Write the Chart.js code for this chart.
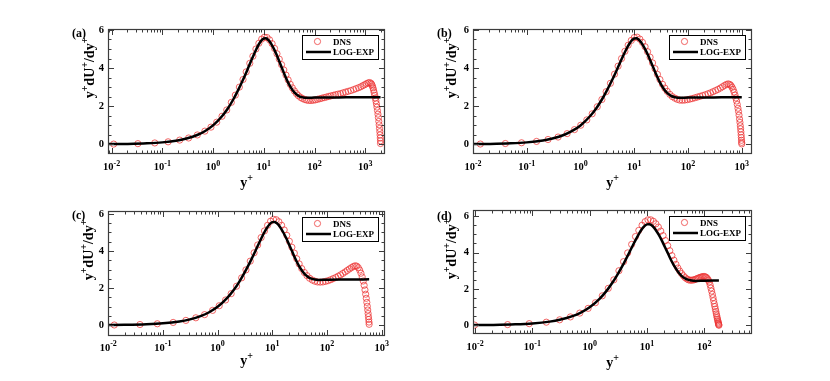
<!DOCTYPE html>
<html>
<head>
<meta charset="utf-8">
<script src="https://cdn.jsdelivr.net/npm/chart.js@4.4.1/dist/chart.umd.min.js"></script>
<style>
  html, body { margin: 0; padding: 0; background: #fff; }
  #wrap { position: relative; width: 830px; height: 381px; }
  #wrap canvas { position: absolute; left: 0; top: 0; }
</style>
</head>
<body>
<div id="wrap">
  <canvas id="chartA" width="830" height="381"></canvas>
  <canvas id="chartB" width="830" height="381"></canvas>
  <canvas id="chartC" width="830" height="381"></canvas>
  <canvas id="chartD" width="830" height="381"></canvas>
</div>
<script>
// y+ dU+/dy+ against y+ : DNS profiles and the LOG-EXP fit, four friction Reynolds numbers

const panelLetters = ['(a)', '(b)', '(c)', '(d)'];
const reTau = [2000, 1000, 590, 180];
const seriesNames = ['DNS', 'LOG-EXP'];
const xTickValues = [0.01, 0.1, 1, 10, 100, 1000];
const xTickExp = ['-2', '-1', '0', '1', '2', '3'];
const yTickValues = [0, 2, 4, 6];

// LOG-EXP curve (same law in every panel, cut at Re_tau)
const logExpYp = [0.008, 0.01, 0.02, 0.05, 0.1, 0.2, 0.3, 0.5, 0.7, 1, 1.5, 2, 2.5, 3, 4, 5, 6, 7, 8, 9, 10, 11, 12, 13, 14, 16, 18, 20, 23, 26, 30, 35, 40, 45, 50, 60, 70, 100, 180, 300, 590, 1000, 2000];
const logExpVal = [0.008, 0.01, 0.02, 0.05, 0.1, 0.2, 0.3, 0.5, 0.7, 0.99, 1.47, 1.92, 2.35, 2.75, 3.45, 4.05, 4.55, 4.95, 5.25, 5.45, 5.55, 5.56, 5.5, 5.4, 5.27, 4.98, 4.68, 4.38, 3.98, 3.62, 3.25, 2.93, 2.72, 2.6, 2.52, 2.46, 2.44, 2.45, 2.46, 2.46, 2.47, 2.47, 2.47];

// DNS, Re_tau = 2000
const dnsA_yp = [0.011, 0.033, 0.071, 0.13, 0.22, 0.33, 0.49, 0.69, 0.91, 1.18, 1.5, 1.86, 2.29, 2.75, 3.3, 3.9, 4.5, 5.3, 6.1, 7.0, 8.0, 9.1, 10.3, 11.6, 13.0, 14.6, 16.3, 18.2, 20.2, 22.4, 24.8, 27.4, 30.2, 33.2, 36.5, 40, 44, 48, 53, 58, 64, 70, 77, 85, 94, 104, 115, 127, 140, 155, 172, 190, 210, 235, 260, 290, 325, 365, 410, 460, 520, 590, 660, 740, 820, 900, 980, 1060, 1140, 1220, 1300, 1340, 1380, 1420, 1460, 1500, 1540, 1580, 1620, 1660, 1700, 1740, 1780, 1815, 1850, 1880, 1910, 1935, 1958, 1978, 1993, 2000];
const dnsA_val = [0.011, 0.033, 0.07, 0.13, 0.22, 0.33, 0.49, 0.69, 0.9, 1.16, 1.47, 1.8, 2.2, 2.58, 3.0, 3.4, 3.8, 4.25, 4.62, 5.0, 5.3, 5.52, 5.62, 5.6, 5.48, 5.28, 5.03, 4.75, 4.47, 4.18, 3.9, 3.63, 3.38, 3.15, 2.96, 2.8, 2.66, 2.55, 2.46, 2.4, 2.35, 2.32, 2.3, 2.3, 2.31, 2.33, 2.36, 2.39, 2.42, 2.45, 2.48, 2.51, 2.54, 2.57, 2.6, 2.63, 2.66, 2.7, 2.74, 2.78, 2.82, 2.87, 2.92, 2.97, 3.02, 3.08, 3.13, 3.18, 3.22, 3.24, 3.2, 3.14, 3.06, 2.96, 2.84, 2.71, 2.57, 2.43, 2.28, 2.12, 1.95, 1.77, 1.58, 1.4, 1.2, 1.02, 0.83, 0.66, 0.49, 0.33, 0.18, 0.04];

// DNS, Re_tau = 1000
const dnsB_yp = [0.0137, 0.04, 0.08, 0.152, 0.249, 0.383, 0.564, 0.773, 1.01, 1.31, 1.65, 2.05, 2.5, 3.0, 3.6, 4.3, 5.0, 5.8, 6.7, 7.7, 8.8, 10.0, 11.3, 12.7, 14.2, 15.9, 17.7, 19.7, 21.9, 24.3, 27, 30, 33.5, 37, 41, 46, 51, 57, 63, 70, 78, 87, 97, 108, 120, 134, 150, 168, 188, 210, 235, 262, 292, 325, 360, 400, 440, 480, 520, 560, 600, 630, 660, 690, 720, 750, 775, 800, 825, 850, 870, 890, 910, 925, 940, 952, 963, 973, 982, 990, 996, 1000];
const dnsB_val = [0.014, 0.04, 0.08, 0.15, 0.25, 0.38, 0.56, 0.77, 1.0, 1.28, 1.6, 1.97, 2.35, 2.76, 3.2, 3.68, 4.1, 4.5, 4.88, 5.2, 5.45, 5.6, 5.62, 5.52, 5.35, 5.12, 4.86, 4.57, 4.27, 3.97, 3.67, 3.4, 3.15, 2.95, 2.78, 2.62, 2.5, 2.42, 2.36, 2.32, 2.31, 2.32, 2.34, 2.37, 2.4, 2.44, 2.48, 2.52, 2.56, 2.6, 2.65, 2.7, 2.76, 2.82, 2.88, 2.95, 3.02, 3.09, 3.14, 3.17, 3.14, 3.08, 2.99, 2.88, 2.74, 2.58, 2.43, 2.27, 2.09, 1.89, 1.72, 1.53, 1.32, 1.15, 0.97, 0.81, 0.65, 0.49, 0.35, 0.21, 0.1, 0.02];

// DNS, Re_tau = 590
const dnsC_yp = [0.0129, 0.038, 0.079, 0.154, 0.263, 0.40, 0.578, 0.81, 1.07, 1.40, 1.77, 2.22, 2.75, 3.3, 3.95, 4.65, 5.4, 6.25, 7.2, 8.2, 9.3, 10.5, 11.8, 13.2, 14.8, 16.5, 18.4, 20.5, 22.8, 25.3, 28, 31, 34.5, 38.5, 43, 48, 54, 60, 67, 75, 84, 94, 105, 117, 130, 145, 160, 177, 195, 215, 235, 257, 280, 303, 327, 350, 373, 396, 418, 440, 460, 478, 495, 510, 523, 535, 546, 556, 565, 573, 580, 586, 590];
const dnsC_val = [0.013, 0.038, 0.079, 0.15, 0.26, 0.4, 0.57, 0.8, 1.05, 1.36, 1.7, 2.1, 2.55, 2.98, 3.45, 3.9, 4.32, 4.72, 5.08, 5.38, 5.6, 5.7, 5.68, 5.57, 5.38, 5.13, 4.84, 4.52, 4.2, 3.88, 3.58, 3.3, 3.05, 2.84, 2.67, 2.53, 2.43, 2.37, 2.33, 2.32, 2.33, 2.36, 2.4, 2.45, 2.51, 2.57, 2.64, 2.71, 2.79, 2.87, 2.95, 3.03, 3.1, 3.16, 3.2, 3.18, 3.1, 2.97, 2.8, 2.6, 2.38, 2.15, 1.9, 1.67, 1.45, 1.23, 1.02, 0.82, 0.63, 0.46, 0.31, 0.17, 0.05];

// DNS, Re_tau = 180
const dnsD_yp = [0.0098, 0.037, 0.088, 0.175, 0.299, 0.461, 0.671, 0.94, 1.26, 1.66, 2.11, 2.64, 3.24, 3.9, 4.6, 5.4, 6.3, 7.2, 8.2, 9.3, 10.4, 11.6, 12.9, 14.3, 15.8, 17.4, 19.1, 21, 23, 25, 27.2, 29.5, 32, 34.6, 37.3, 40.2, 43.2, 46.3, 49.6, 53, 56.5, 60.1, 63.8, 67.6, 71.5, 75.5, 79.6, 83.7, 87.9, 92.1, 96.4, 100.7, 105, 109.3, 113.6, 117.9, 122.1, 126.3, 130.4, 134.4, 138.3, 142.1, 145.8, 149.4, 152.8, 156.1, 159.2, 162.2, 165, 167.6, 170, 172.2, 174.2, 176, 177.6, 178.9, 180];
const dnsD_val = [0.01, 0.037, 0.088, 0.17, 0.3, 0.46, 0.67, 0.93, 1.24, 1.62, 2.03, 2.5, 3.0, 3.5, 3.98, 4.45, 4.88, 5.22, 5.5, 5.7, 5.8, 5.8, 5.72, 5.58, 5.4, 5.18, 4.93, 4.66, 4.38, 4.1, 3.83, 3.58, 3.35, 3.15, 2.98, 2.84, 2.72, 2.62, 2.55, 2.5, 2.48, 2.48, 2.49, 2.51, 2.54, 2.57, 2.6, 2.63, 2.65, 2.67, 2.68, 2.68, 2.66, 2.62, 2.56, 2.48, 2.38, 2.22, 2.05, 1.88, 1.7, 1.52, 1.35, 1.18, 1.03, 0.89, 0.76, 0.63, 0.52, 0.42, 0.33, 0.25, 0.18, 0.12, 0.07, 0.03, 0.0];

const SERIF = '"Liberation Serif", "DejaVu Serif", serif';
const RED = 'rgb(236, 52, 52)';

// plot boxes in page pixels and axis ranges for each panel
const panels = [
  { canvas: 'chartA', dnsX: dnsA_yp, dnsY: dnsA_val, xMin: 0.0085, xMax: 2450, yMin: -0.51, yMax: 6.05,
    box: { L: 108, R: 385, T: 29, B: 154 }, tickDy: 16, xTitleDy: 33, yTitleDx: -14, letterDy: 7.5 },
  { canvas: 'chartB', dnsX: dnsB_yp, dnsY: dnsB_val, xMin: 0.01, xMax: 1550, yMin: -0.51, yMax: 6.05,
    box: { L: 473, R: 752, T: 29, B: 154 }, tickDy: 16, xTitleDy: 33, yTitleDx: -17, letterDy: 7.5 },
  { canvas: 'chartC', dnsX: dnsC_yp, dnsY: dnsC_val, xMin: 0.0099, xMax: 1150, yMin: -0.58, yMax: 6.15,
    box: { L: 108, R: 385, T: 211, B: 336 }, tickDy: 14.5, xTitleDy: 29, yTitleDx: -15, letterDy: 8 },
  { canvas: 'chartD', dnsX: dnsD_yp, dnsY: dnsD_val, xMin: 0.0092, xMax: 680, yMin: -0.48, yMax: 6.34,
    box: { L: 473, R: 752, T: 210, B: 334 }, tickDy: 16, xTitleDy: 32.5, yTitleDx: -17, letterDy: 10 }
];

// text with raised parts: parts = [[text, isSuperscript], ...]
function supText(ctx, parts, x, y, size, align) {
  const base = 'bold ' + size + 'px ' + SERIF;
  const sup = 'bold ' + Math.round(size * 0.72) + 'px ' + SERIF;
  let w = 0;
  parts.forEach(p => { ctx.font = p[1] ? sup : base; w += ctx.measureText(p[0]).width; });
  let cx = align === 'center' ? x - w / 2 : (align === 'right' ? x - w : x);
  ctx.textAlign = 'left';
  ctx.textBaseline = 'alphabetic';
  parts.forEach(p => {
    ctx.font = p[1] ? sup : base;
    ctx.fillText(p[0], cx, p[1] ? y - size * 0.42 : y);
    cx += ctx.measureText(p[0]).width;
  });
}

const decor = {
  id: 'decor',
  afterDraw(chart, args, o) {
    const ctx = chart.ctx;
    const a = chart.chartArea;
    const xs = chart.scales.x, ys = chart.scales.y;
    ctx.save();

    // inward tick marks on all four sides
    ctx.strokeStyle = '#3c3c3c';
    ctx.lineWidth = 1;
    ctx.beginPath();
    for (let e = -3; e <= 4; e++) {
      for (let k = 1; k <= 9; k++) {
        const v = k * Math.pow(10, e);
        if (v < xs.min || v > xs.max) continue;
        const px = Math.round(xs.getPixelForValue(v)) + 0.5;
        if (px < a.left + 1.5 || px > a.right - 1.5) continue;
        const len = k === 1 ? 6 : 3.5;
        ctx.moveTo(px, a.bottom); ctx.lineTo(px, a.bottom - len);
        ctx.moveTo(px, a.top); ctx.lineTo(px, a.top + len);
      }
    }
    for (let i = Math.ceil(ys.min * 2); i <= Math.floor(ys.max * 2); i++) {
      const py = Math.round(ys.getPixelForValue(i / 2)) + 0.5;
      if (py < a.top + 1.5 || py > a.bottom - 1.5) continue;
      const len = i % 4 === 0 ? 6 : 3.5;
      ctx.moveTo(a.left, py); ctx.lineTo(a.left + len, py);
      ctx.moveTo(a.right, py); ctx.lineTo(a.right - len, py);
    }
    ctx.stroke();
    ctx.lineWidth = 1.2;
    ctx.strokeRect(Math.round(a.left) + 0.5, Math.round(a.top) + 0.5,
      Math.round(a.right - a.left) - 1, Math.round(a.bottom - a.top) - 1);

    // x tick labels 10^n
    ctx.fillStyle = '#000';
    xTickValues.forEach((v, i) => {
      if (v < xs.min || v > xs.max) return;
      supText(ctx, [['10', false], [xTickExp[i], true]], xs.getPixelForValue(v), a.bottom + o.tickDy, 10.5, 'center');
    });

    // axis titles
    supText(ctx, [['y', false], ['+', true]], (a.left + a.right) / 2, a.bottom + o.xTitleDy, 14, 'center');
    ctx.save();
    ctx.translate(a.left + o.yTitleDx, a.top + 39);
    ctx.rotate(-Math.PI / 2);
    supText(ctx, [['y', false], ['+', true], ['dU', false], ['+', true], ['/dy', false], ['+', true]], 0, 0, 14, 'center');
    ctx.restore();

    // panel letter
    ctx.font = 'bold 12px ' + SERIF;
    ctx.textAlign = 'left';
    ctx.textBaseline = 'alphabetic';
    ctx.fillText(o.letter, a.left - 36, a.top + o.letterDy);

    // legend box
    const bw = 76, bh = 24;
    const bx = Math.round(a.right - 7 - bw), by = Math.round(a.top + 6);
    ctx.fillStyle = '#fff';
    ctx.fillRect(bx, by, bw, bh);
    ctx.strokeStyle = '#000';
    ctx.lineWidth = 1;
    ctx.strokeRect(bx + 0.5, by + 0.5, bw, bh);
    ctx.strokeStyle = RED;
    ctx.lineWidth = 0.75;
    ctx.beginPath();
    ctx.arc(bx + 15.5, by + 6.5, 3.1, 0, Math.PI * 2);
    ctx.stroke();
    ctx.strokeStyle = '#000';
    ctx.lineWidth = 2.5;
    ctx.beginPath();
    ctx.moveTo(bx + 4, by + 17); ctx.lineTo(bx + 29, by + 17);
    ctx.stroke();
    ctx.fillStyle = '#000';
    ctx.font = 'bold 9px ' + SERIF;
    ctx.fillText(seriesNames[0], bx + 31, by + 9.8);
    ctx.fillText(seriesNames[1], bx + 31, by + 20.3);

    ctx.restore();
  }
};

function pairs(xv, yv) {
  const n = Math.min(xv.length, yv.length);
  const out = [];
  for (let i = 0; i < n; i++) out.push({ x: xv[i], y: yv[i] });
  return out;
}

panels.forEach((p, idx) => {
  const fit = pairs(logExpYp, logExpVal).filter(d => d.x <= reTau[idx]);
  const b = p.box;
  new Chart(document.getElementById(p.canvas).getContext('2d'), {
    type: 'scatter',
    data: {
      datasets: [
        {
          label: seriesNames[1],
          data: fit,
          showLine: true,
          borderColor: '#000',
          borderWidth: 2.5,
          pointRadius: 0,
          fill: false,
          cubicInterpolationMode: 'monotone'
        },
        {
          label: seriesNames[0],
          data: pairs(p.dnsX, p.dnsY),
          showLine: false,
          pointStyle: 'circle',
          pointRadius: 3.1,
          pointBorderWidth: 0.75,
          pointBorderColor: RED,
          pointBackgroundColor: 'rgba(0,0,0,0)'
        }
      ]
    },
    options: {
      responsive: false,
      animation: false,
      devicePixelRatio: 1,
      layout: { padding: { left: b.L - 40, right: 830 - b.R, top: b.T, bottom: 381 - b.B - 20 } },
      plugins: {
        legend: { display: false },
        tooltip: { enabled: false },
        decor: { letter: panelLetters[idx], tickDy: p.tickDy, xTitleDy: p.xTitleDy, yTitleDx: p.yTitleDx, letterDy: p.letterDy }
      },
      scales: {
        x: {
          type: 'logarithmic',
          min: p.xMin,
          max: p.xMax,
          grid: { display: false, drawTicks: false },
          border: { display: false },
          ticks: { display: false },
          afterBuildTicks: s => { s.ticks = xTickValues.filter(v => v >= p.xMin && v <= p.xMax).map(v => ({ value: v })); },
          afterFit: s => { s.height = 20; }
        },
        y: {
          type: 'linear',
          min: p.yMin,
          max: p.yMax,
          grid: { display: false, drawTicks: false },
          border: { display: false },
          ticks: { color: '#000', padding: 4, font: { family: SERIF, size: 10.5, weight: 'bold' } },
          afterBuildTicks: s => { s.ticks = yTickValues.map(v => ({ value: v })); },
          afterFit: s => { s.width = 40; }
        }
      }
    },
    plugins: [decor]
  });
});
</script>
</body>
</html>
